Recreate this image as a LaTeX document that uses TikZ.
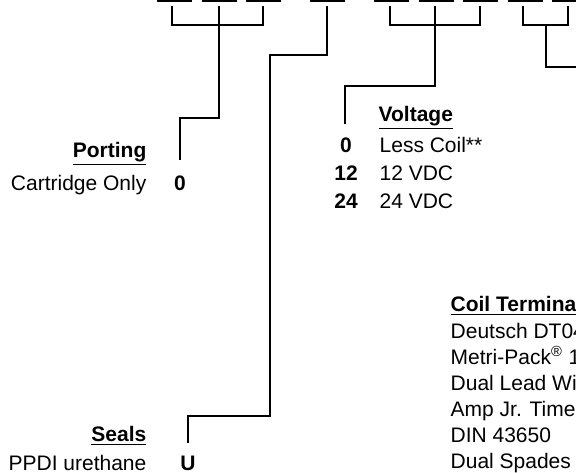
\documentclass[tikz,border=0pt]{standalone}
\usepackage{fontspec}
\setmainfont{Liberation Sans}
\begin{document}
\begin{tikzpicture}[x=0.5pt,y=-0.5pt,line width=0.65pt,
  txt/.style={inner sep=0pt, font=\fontsize{10.5}{12}\selectfont},
  head/.style={txt, font=\fontsize{10.5}{12}\selectfont\bfseries},
  code/.style={txt, font=\fontsize{10.5}{12}\selectfont\bfseries, anchor=base}]
\useasboundingbox (0,0) rectangle (576,472);
\clip (0,0) rectangle (576,472);
% blanks of the model code
\foreach \x [count=\i] in {157,201.5,246,310,374,418.5,463,507.5,552}
  \draw (\x,1) -- ++(35,0);
\foreach \n/\x in {p1/172,p2/219,p3/263,s1/327,v1/390,v2/435,v3/480,c1/523,c2/568}
  \coordinate (\n) at (\x,6);
% porting
\node[head, anchor=base east] (porthead) at (147,157) {\underline{Porting}};
\node[txt, anchor=base east] (port0) at (147,190) {Cartridge Only};
\node[code] (pcode) at (180,190) {0};
\coordinate (pend) at (180,160);
\draw (p1) |- (p3 |- 0,25) -- (p3);
\draw (p2) -- (219,118) -| (pend);
% seals
\node[head, anchor=base east] (sealhead) at (147,441) {\underline{Seals}};
\node[txt, anchor=base east] (seal0) at (147,470) {PPDI urethane};
\node[code] (scode) at (188,470) {U};
\coordinate (send) at (188,443);
\draw (s1) -- (327,55) -| (270,416) -| (send);
% voltage
\node[head, anchor=base west] (volthead) at (378,121) {\underline{Voltage}};
\coordinate (vend) at (345,124);
\draw (v1) |- (v3 |- 0,25) -- (v3);
\draw (v2) -- (435,86) -| (vend);
\foreach \c/\t [count=\i from 0] in {0/Less Coil**,12/12 VDC,24/24 VDC} {
  \node[code] (vcode\i) at (346,152+28*\i) {\c};
  \node[txt, anchor=base west] (volt\i) at (379,152+28*\i) {\t};
}
% coil terminal
\node[head, anchor=base west] (coilhead) at (450,311) {\underline{Coil Termina}};
\draw (c1) |- (c2 |- 0,25) -- (c2);
\coordinate (cend) at (580,67);
\draw (546,25) |- (cend);
\foreach \t [count=\i from 0] in {Deutsch DT04,Metri-Pack\textsuperscript{®} 1,Dual Lead Wi,Amp Jr. Time,DIN 43650,Dual Spades}
  \node[txt, anchor=base west] (coil\i) at (450,338+26*\i) {\t};
\end{tikzpicture}
\end{document}
